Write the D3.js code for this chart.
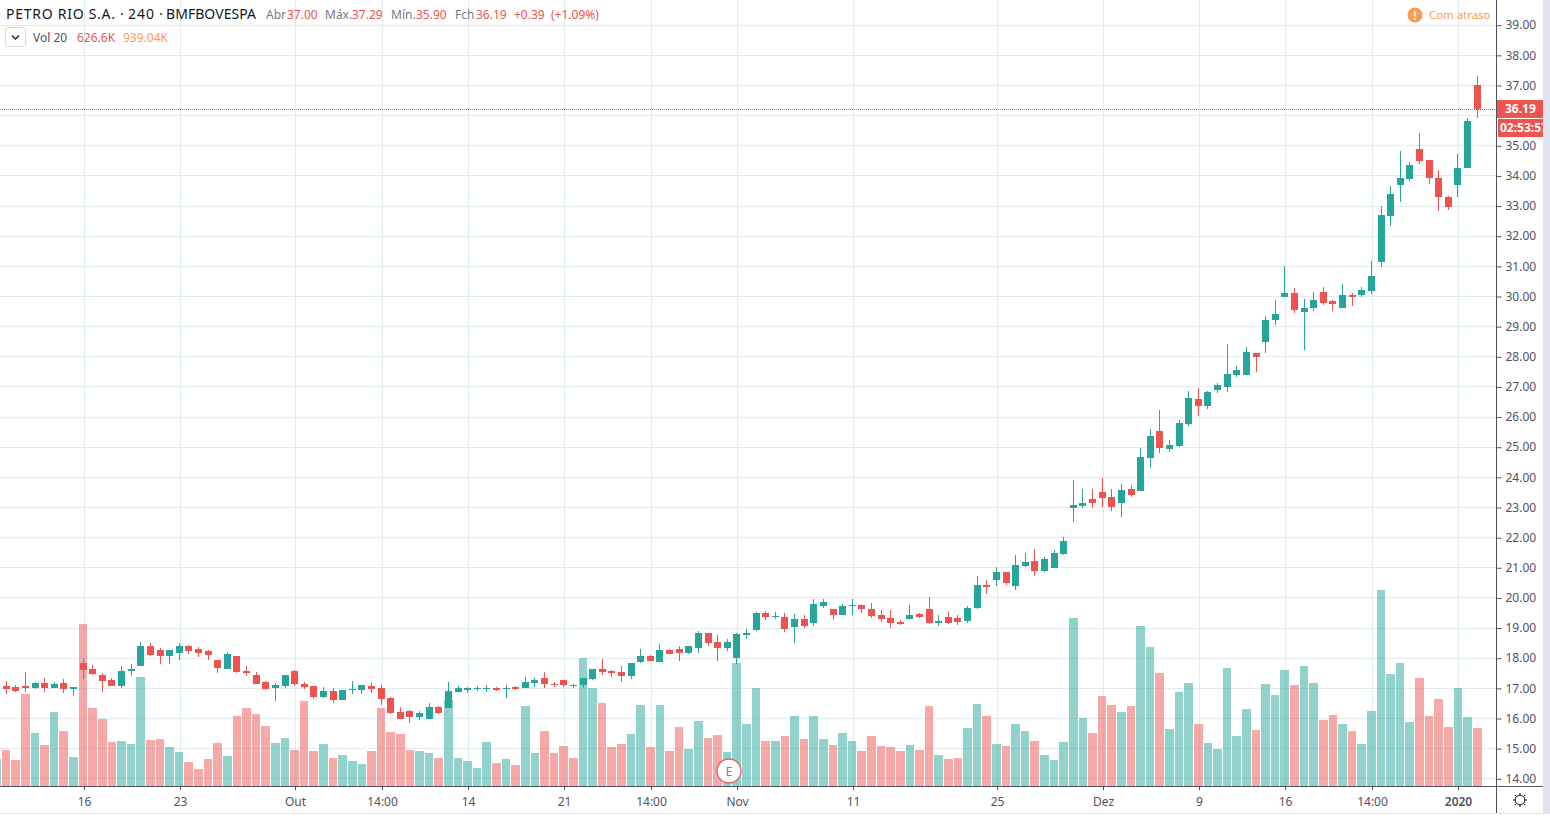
<!DOCTYPE html>
<html lang="pt">
<head>
<meta charset="utf-8">
<title>PETRO RIO S.A. 240</title>
<script src="https://d3js.org/d3.v7.min.js"></script>
<style>
html,body{margin:0;padding:0;background:#fff;overflow:hidden}
svg{display:block}
text{font-family:"Noto Sans",sans-serif}
</style>
</head>
<body>
<div id="chart"></div>
<script>
// First entry is the bar cut off at the left edge.
const openP = [17.00,17.06,17.02,17.06,16.99,17.16,16.99,17.16,16.96,17.82,17.62,17.42,17.26,17.06,17.56,17.72,18.39,18.25,18.05,18.15,18.39,18.29,18.22,17.92,17.62,18.05,17.56,17.42,17.19,16.99,17.06,17.56,17.12,17.06,16.69,16.89,16.59,16.92,16.92,17.06,16.99,16.66,16.20,16.23,16.03,15.96,16.36,16.33,16.86,16.92,16.96,16.96,16.99,16.96,17.02,16.99,17.16,17.32,17.12,17.26,17.09,17.09,17.29,17.62,17.56,17.52,17.39,17.85,18.05,17.85,18.25,18.29,18.15,18.32,18.82,18.52,18.32,17.99,18.75,18.92,19.48,19.35,19.35,19.02,19.29,19.15,19.72,19.62,19.42,19.72,19.75,19.62,19.42,19.32,19.19,19.29,19.45,19.62,19.15,19.35,19.32,19.22,19.65,20.41,20.58,20.85,20.38,21.05,21.21,20.88,20.98,21.44,22.96,23.02,23.26,23.49,23.32,23.12,23.59,23.52,24.62,25.51,24.91,25.01,25.75,26.58,26.35,26.88,26.98,27.38,27.38,28.11,28.47,29.20,29.97,30.10,29.47,29.60,30.13,29.83,29.60,30.03,30.03,30.17,31.13,32.64,33.67,33.87,34.87,34.50,33.90,33.27,33.67,34.24,37.00];
const highP = [17.10,17.22,17.09,17.53,17.19,17.32,17.19,17.29,17.02,17.95,17.75,17.49,17.32,17.72,17.79,18.52,18.49,18.32,18.25,18.49,18.42,18.35,18.25,17.92,18.19,18.05,17.72,17.52,17.22,17.16,17.42,17.59,17.19,17.06,17.02,16.99,16.92,17.22,17.09,17.16,17.09,16.69,16.36,16.26,16.23,16.49,16.39,17.19,17.06,17.02,17.06,17.09,17.02,17.09,17.06,17.36,17.32,17.52,17.19,17.26,17.12,17.32,17.62,17.95,17.59,17.72,17.82,18.29,18.09,18.45,18.29,18.39,18.39,18.88,18.82,18.75,18.62,18.82,18.95,19.52,19.55,19.52,19.49,19.45,19.42,19.95,19.95,19.62,19.79,19.95,19.75,19.82,19.59,19.59,19.25,19.75,19.49,20.02,19.42,19.52,19.42,19.72,20.71,20.58,21.01,20.85,21.41,21.48,21.61,21.34,21.58,22.01,23.89,23.59,23.59,23.95,23.59,23.75,23.72,24.95,25.58,26.21,25.21,25.88,26.85,26.95,26.85,27.11,28.41,27.68,28.31,28.11,29.34,29.87,31.00,30.27,29.90,30.13,30.30,29.87,30.40,30.10,30.30,31.16,32.98,33.64,34.80,34.43,35.40,34.50,34.17,33.31,34.70,35.90,37.29];
const lowP = [16.90,16.79,16.87,16.86,16.96,16.86,16.99,16.82,16.72,17.29,17.42,16.86,17.06,16.99,17.39,17.72,18.05,17.79,17.79,17.92,18.12,18.02,17.92,17.49,17.62,17.49,17.39,17.12,16.92,16.56,16.99,17.06,16.96,16.63,16.66,16.49,16.59,16.79,16.79,16.82,16.43,16.13,15.96,15.83,15.93,15.96,16.13,16.33,16.86,16.82,16.89,16.86,16.89,16.66,16.92,16.99,17.02,16.99,17.02,17.02,16.99,16.99,17.26,17.42,17.36,17.19,17.29,17.82,17.89,17.85,18.12,17.89,18.12,18.15,18.39,17.89,18.22,17.79,18.62,18.88,19.25,19.28,18.86,18.49,18.99,19.05,19.65,19.25,19.42,19.42,19.49,19.32,19.19,18.99,19.09,19.29,19.32,19.12,19.05,19.12,19.09,19.15,19.62,20.12,20.38,20.41,20.25,21.01,20.71,20.85,20.98,21.41,22.49,22.96,22.96,22.99,22.86,22.66,23.32,23.52,24.28,24.78,24.81,24.98,25.68,26.02,26.25,26.78,26.81,27.31,27.38,27.48,28.11,29.04,29.97,29.44,28.21,29.50,29.70,29.50,29.60,29.67,29.97,30.07,30.96,32.31,33.11,33.80,34.37,33.70,32.81,32.84,33.27,34.24,35.90];
const closeP = [17.05,16.96,16.89,16.99,17.16,16.99,17.12,16.96,17.02,17.59,17.46,17.22,17.06,17.56,17.62,18.39,18.09,18.05,18.25,18.39,18.22,18.15,18.09,17.66,18.12,17.52,17.49,17.12,16.96,17.09,17.42,17.12,17.02,16.69,16.89,16.59,16.92,16.96,17.09,16.96,16.63,16.16,15.96,16.03,16.16,16.36,16.16,16.89,16.99,16.99,16.99,16.99,16.92,16.99,16.96,17.19,17.26,17.12,17.09,17.09,17.06,17.32,17.62,17.52,17.49,17.39,17.82,18.05,17.89,18.25,18.12,18.15,18.39,18.82,18.49,18.32,18.52,18.78,18.82,19.48,19.35,19.38,18.96,19.29,19.05,19.79,19.85,19.42,19.72,19.75,19.62,19.39,19.29,19.15,19.12,19.42,19.35,19.15,19.22,19.15,19.19,19.65,20.41,20.35,20.85,20.48,21.08,21.18,20.88,21.28,21.48,21.88,23.06,23.12,23.12,23.29,22.99,23.55,23.39,24.65,25.35,24.95,25.05,25.78,26.61,26.35,26.81,27.05,27.41,27.54,28.14,27.97,29.20,29.40,30.10,29.54,29.60,29.87,29.77,29.73,30.03,29.97,30.20,30.66,32.68,33.37,33.90,34.34,34.47,33.90,33.27,32.94,34.24,35.80,36.19];
const volumeK = [292,389,281,994,572,443,799,594,313,1750,842,724,475,486,454,1177,497,508,421,367,259,184,292,464,324,756,842,778,648,464,518,389,918,378,454,302,335,270,238,378,842,583,562,389,378,356,302,929,302,270,194,475,248,292,227,864,356,594,356,432,302,1382,1058,896,421,454,562,875,421,875,378,637,400,702,518,551,367,1328,670,1058,486,486,540,756,508,756,508,443,572,486,378,540,432,421,378,443,389,864,335,292,302,626,886,756,454,432,670,594,486,335,281,475,1814,734,572,972,875,799,864,1728,1501,1220,616,1015,1112,670,464,400,1274,540,832,605,1102,983,1253,1091,1296,1112,713,767,670,594,454,810,2117,1210,1328,691,1166,756,940,637,1058,745,626.6];
const priceTicks = [14,15,16,17,18,19,20,21,22,23,24,25,26,27,28,29,30,31,32,33,34,35,36,37,38,39];
const timeTicks = [9,19,31,40,49,59,68,77,89,104,115,125,134,143,152];
const timeLabels = ["16","23","Out","14:00","14","21","14:00","Nov","11","25","Dez","9","16","14:00","2020"];
const titleParts = [["PETRO RIO S.A.",6,109],["·",120,0],["240",128,26],["·",159,0],["BMFBOVESPA",166,90]];
const legendOHLC = [["Abr","37.00",266,287],["Máx.","37.29",325,352],["Mín.","35.90",391,416],["Fch","36.19",455,476]];
const changeParts = [["+0.39",514],["(+1.09%)",551]];
const lastPrice = 36.19;
const countdown = "02:53:57";
const volumeLegend = ["Vol 20","626.6K","939.04K"];

const UP = "#26a69a", DOWN = "#ef5350", GRID = "#e1ecf2", AXIS = "#50535e";
const W = 1550, H = 816, axisX = 1496, timeY = 786;
const FONT = '"Noto Sans",sans-serif';

const svg = d3.select("#chart").append("svg").attr("width", W).attr("height", H);
const x = d3.scaleLinear().domain([1, 154]).range([6.2, 1477.14]);
const y = d3.scaleLinear().domain([14, 39]).range([778.3, 24.7]);
const v = d3.scaleLinear().domain([0, 2117]).range([timeY, timeY - 196]);

const wickX = i => Math.floor(x(i));
const gridX = i => Math.floor(x(i) + 0.9) + 0.5;
const volLeft = i => Math.round(x(i) - 4.4);

// Grid
const grid = svg.append("g");
grid.selectAll("line.h").data(priceTicks).join("line").attr("class","h")
  .attr("x1",0).attr("x2",axisX)
  .attr("y1",d=>Math.round(y(d))+.5).attr("y2",d=>Math.round(y(d))+.5)
  .attr("stroke",GRID).attr("stroke-width",1);
grid.selectAll("line.v").data(timeTicks).join("line").attr("class","v")
  .attr("x1",gridX).attr("x2",gridX).attr("y1",0).attr("y2",timeY)
  .attr("stroke",GRID).attr("stroke-width",1);

const idx = d3.range(openP.length);

// Candles
const candles = svg.append("g");
candles.selectAll("rect.wick").data(idx).join("rect").attr("class","wick")
  .attr("x",wickX).attr("width",1)
  .attr("y",i=>Math.round(y(highP[i])))
  .attr("height",i=>Math.max(1,Math.round(y(lowP[i]))-Math.round(y(highP[i]))))
  .attr("fill",i=>closeP[i]>=openP[i]?UP:DOWN);
candles.selectAll("rect.body").data(idx).join("rect").attr("class","body")
  .attr("x",i=>wickX(i)-3).attr("width",7)
  .attr("y",i=>Math.round(y(Math.max(openP[i],closeP[i]))))
  .attr("height",i=>Math.max(1,Math.round(y(Math.min(openP[i],closeP[i])))-Math.round(y(Math.max(openP[i],closeP[i])))))
  .attr("fill",i=>closeP[i]>=openP[i]?UP:DOWN);

// Volume
svg.append("g").selectAll("rect").data(idx).join("rect")
  .attr("x",volLeft)
  .attr("width",i=>volLeft(i+1)-1-volLeft(i)+(i===idx.length-1?1:0))
  .attr("y",i=>Math.round(v(volumeK[i])))
  .attr("height",i=>timeY-Math.round(v(volumeK[i])))
  .attr("fill",i=>closeP[i]>=openP[i]?UP:DOWN)
  .attr("opacity",0.5);

// Current price line
const lastY = Math.round(y(lastPrice))+.5;
svg.append("line").attr("x1",0).attr("x2",axisX).attr("y1",lastY).attr("y2",lastY)
  .attr("stroke",DOWN).attr("stroke-width",1).attr("stroke-dasharray","1 1");

// Earnings marker
const eMark = svg.append("g").attr("transform",`translate(729,771)`);
eMark.append("circle").attr("r",12).attr("fill","#fff").attr("stroke","#e5606a").attr("stroke-width",1.3);
eMark.append("text").attr("text-anchor","middle").attr("y",4.5).attr("font-size",12).attr("fill","#e0555f").text("E");

// Axes
svg.append("rect").attr("x",axisX+1).attr("y",0).attr("width",W-axisX-1).attr("height",813).attr("fill","#fff");
const yAxis = svg.append("g").attr("transform",`translate(${axisX+.5},0)`)
  .call(d3.axisRight(y).tickValues(priceTicks).tickFormat(d3.format(".2f")).tickSize(5).tickPadding(4));
yAxis.select(".domain").remove();
yAxis.selectAll(".tick line").attr("stroke",AXIS).attr("y1",.5).attr("y2",.5);
yAxis.selectAll(".tick text").attr("font-family",FONT).attr("font-size",12).attr("fill",AXIS).attr("dy","0.35em");
// The 36.00 label sits entirely behind the price and countdown tags.
yAxis.selectAll(".tick text").filter(d=>d===36).remove();

const xAxis = svg.append("g").attr("transform",`translate(0,${timeY})`)
  .call(d3.axisBottom(x).tickValues(timeTicks).tickFormat((d,i)=>timeLabels[i]).tickSize(4).tickPadding(7));
xAxis.select(".domain").remove();
xAxis.selectAll(".tick").attr("transform",d=>`translate(${gridX(d)},0)`);
xAxis.selectAll(".tick line").attr("stroke",AXIS);
xAxis.selectAll(".tick text").attr("font-family",FONT).attr("font-size",12).attr("fill",AXIS)
  .attr("font-weight",(d,i)=>i===timeLabels.length-1?600:400);

svg.append("line").attr("x1",0).attr("x2",1543).attr("y1",timeY+.5).attr("y2",timeY+.5).attr("stroke",AXIS);
svg.append("line").attr("x1",axisX+.5).attr("x2",axisX+.5).attr("y1",0).attr("y2",813).attr("stroke",AXIS);
svg.append("line").attr("x1",0).attr("x2",1543).attr("y1",813.5).attr("y2",813.5).attr("stroke","#e0e3eb");
svg.append("rect").attr("x",1543).attr("y",0).attr("width",7).attr("height",816).attr("fill","#e0e3eb");
svg.append("rect").attr("x",0).attr("y",814).attr("width",1550).attr("height",2).attr("fill","#fff");

// Price labels
const priceDefs = svg.append("defs").append("clipPath").attr("id","labelClip");
priceDefs.append("rect").attr("x",1497).attr("y",90).attr("width",46).attr("height",60);
const labels = svg.append("g").attr("clip-path","url(#labelClip)");
labels.append("rect").attr("x",1497).attr("y",100).attr("width",46).attr("height",18).attr("fill",DOWN);
labels.append("text").attr("x",1505).attr("y",113).attr("font-size",12).attr("font-weight",700).attr("fill","#fff").text(d3.format(".2f")(lastPrice));
labels.append("rect").attr("x",1498).attr("y",119).attr("width",45).attr("height",18).attr("fill",DOWN);
labels.append("text").attr("x",1500).attr("y",132).attr("font-size",12).attr("font-weight",700).attr("fill","#fff").text(countdown);

// Legend
const legend = svg.append("g");
titleParts.forEach(([t,tx,len])=>{
  const el = legend.append("text").attr("x",tx).attr("y",19).attr("font-size",14).attr("fill","#131722").text(t);
  if (len) el.attr("textLength",len).attr("lengthAdjust","spacing");
});
legendOHLC.forEach(([lab,val,lx,vx])=>{
  legend.append("text").attr("x",lx).attr("y",19).attr("font-size",12).attr("fill","#787b86").text(lab);
  legend.append("text").attr("x",vx).attr("y",19).attr("font-size",12).attr("fill",DOWN).text(val);
});
changeParts.forEach(([t,tx])=>{
  legend.append("text").attr("x",tx).attr("y",19).attr("font-size",12).attr("fill",DOWN).text(t);
});

legend.append("rect").attr("x",5.5).attr("y",27.5).attr("width",20).attr("height",19).attr("rx",2.5)
  .attr("fill","#fff").attr("stroke","#d6d8e0");
legend.append("path").attr("d","M12 35.5l3.5 3.5 3.5-3.5").attr("fill","none").attr("stroke","#131722").attr("stroke-width",1.3);
legend.append("text").attr("x",33).attr("y",42).attr("font-size",12).attr("fill","#50535e").text(volumeLegend[0]);
legend.append("text").attr("x",77).attr("y",42).attr("font-size",12).attr("fill",DOWN).text(volumeLegend[1]);
legend.append("text").attr("x",123).attr("y",42).attr("font-size",12).attr("fill","#ff9850").text(volumeLegend[2]);

// Delay badge
legend.append("circle").attr("cx",1415).attr("cy",15).attr("r",7.5).attr("fill","#ff9850");
legend.append("text").attr("x",1415).attr("y",19.5).attr("text-anchor","middle").attr("font-size",12).attr("font-weight",700).attr("fill","#fff").text("!");
legend.append("text").attr("x",1429).attr("y",19).attr("font-size",11.4).attr("fill","#ff9850").text("Com atraso");

// Settings icon
const gear = svg.append("g").attr("transform","translate(1520,800)").attr("fill","none").attr("stroke","#131722");
gear.append("circle").attr("r",4.8);
gear.selectAll("line").data(d3.range(8)).join("line")
  .attr("x1",d=>4.8*Math.cos(d*Math.PI/4)).attr("y1",d=>4.8*Math.sin(d*Math.PI/4))
  .attr("x2",d=>7*Math.cos(d*Math.PI/4)).attr("y2",d=>7*Math.sin(d*Math.PI/4));
</script>
</body>
</html>
